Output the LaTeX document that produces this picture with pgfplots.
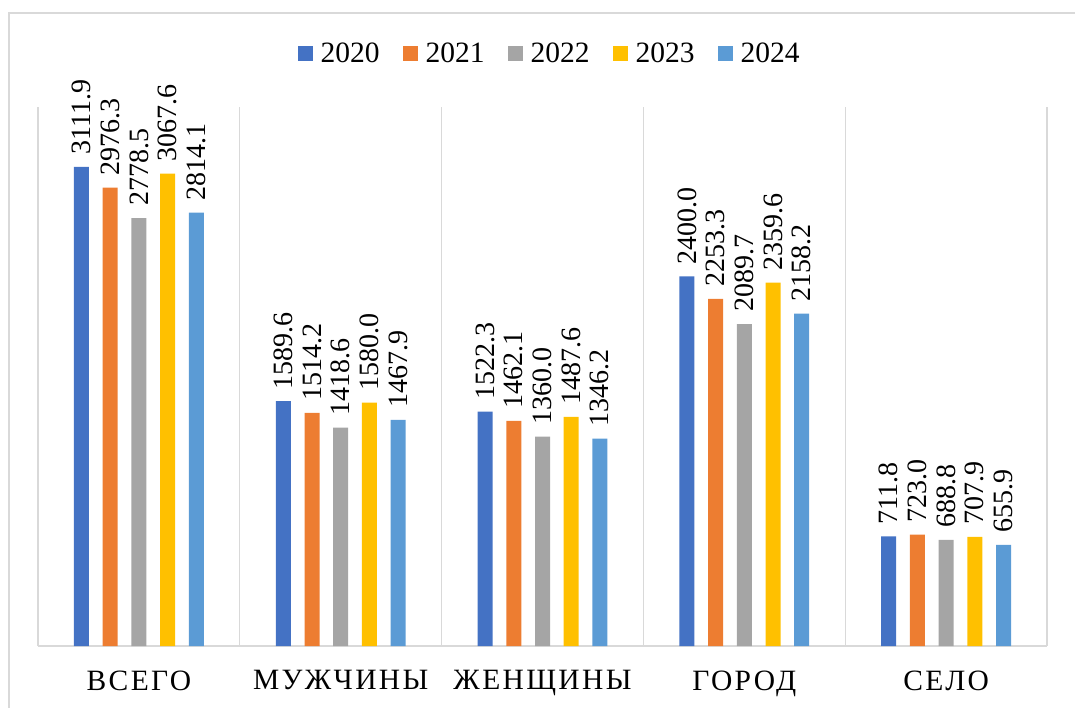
\documentclass[border=0pt]{standalone}
\usepackage{fontspec}
\setmainfont{Liberation Serif}
\usepackage{pgfplots}
\pgfplotsset{compat=1.18}
\definecolor{c1}{HTML}{4472C4}
\definecolor{c2}{HTML}{ED7D31}
\definecolor{c3}{HTML}{A5A5A5}
\definecolor{c4}{HTML}{FFC000}
\definecolor{c5}{HTML}{5B9BD5}
\definecolor{gridc}{HTML}{D9D9D9}
\begin{document}
\begin{tikzpicture}
\path[use as bounding box] (0,0) rectangle (1075pt,707pt);
\draw[gridc, line width=1.2pt] (9pt,-20pt) rectangle (1095pt,694pt);
\begin{axis}[
  at={(38pt,61pt)}, anchor=south west,
  scale only axis, width=1009pt, height=539pt,
  xmin=-0.5, xmax=4.5, ymin=0, ymax=3500,
  ybar=13.7pt, bar width=15pt,
  xtick={0,1,2,3,4},
  xticklabels={ВСЕГО,МУЖЧИНЫ,ЖЕНЩИНЫ,ГОРОД,СЕЛО},
  minor xtick={-0.5,0.5,1.5,2.5,3.5,4.5},
  xminorgrids=true,
  minor grid style={gridc, line width=1.2pt},
  major tick length=0pt, minor tick length=0pt,
  axis x line=bottom, axis y line=none,
  x axis line style={gridc, line width=1.5pt, -},
  ytick=\empty,
  xticklabel style={font=\fontsize{29.5}{32}\selectfont\addfontfeature{LetterSpace=8}, yshift=-21pt},
  clip=false,
  /pgf/number format/assume math mode=true,
  nodes near coords,
  nodes near coords style={font=\fontsize{28}{30}\selectfont, rotate=90, anchor=west, inner xsep=12pt,
     /pgf/number format/.cd, fixed, zerofill, precision=1, 1000 sep={}, assume math mode=true},
  legend columns=5,
  legend style={draw=none, at={(0.510,1.100)}, anchor=center,
     font=\fontsize{29.5}{32}\selectfont,
     /tikz/every even column/.append style={column sep=16pt},
     nodes={inner xsep=7.5pt}},
  legend image code/.code={\fill[#1] (0pt,-7.5pt) rectangle (15pt,7.5pt);},
]
\addplot[fill=c1, draw=none] coordinates {(0,3111.9) (1,1589.6) (2,1522.3) (3,2400.0) (4,711.8)};
\addplot[fill=c2, draw=none] coordinates {(0,2976.3) (1,1514.2) (2,1462.1) (3,2253.3) (4,723.0)};
\addplot[fill=c3, draw=none] coordinates {(0,2778.5) (1,1418.6) (2,1360.0) (3,2089.7) (4,688.8)};
\addplot[fill=c4, draw=none] coordinates {(0,3067.6) (1,1580.0) (2,1487.6) (3,2359.6) (4,707.9)};
\addplot[fill=c5, draw=none] coordinates {(0,2814.1) (1,1467.9) (2,1346.2) (3,2158.2) (4,655.9)};
\legend{2020,2021,2022,2023,2024}
\end{axis}
\end{tikzpicture}
\end{document}
